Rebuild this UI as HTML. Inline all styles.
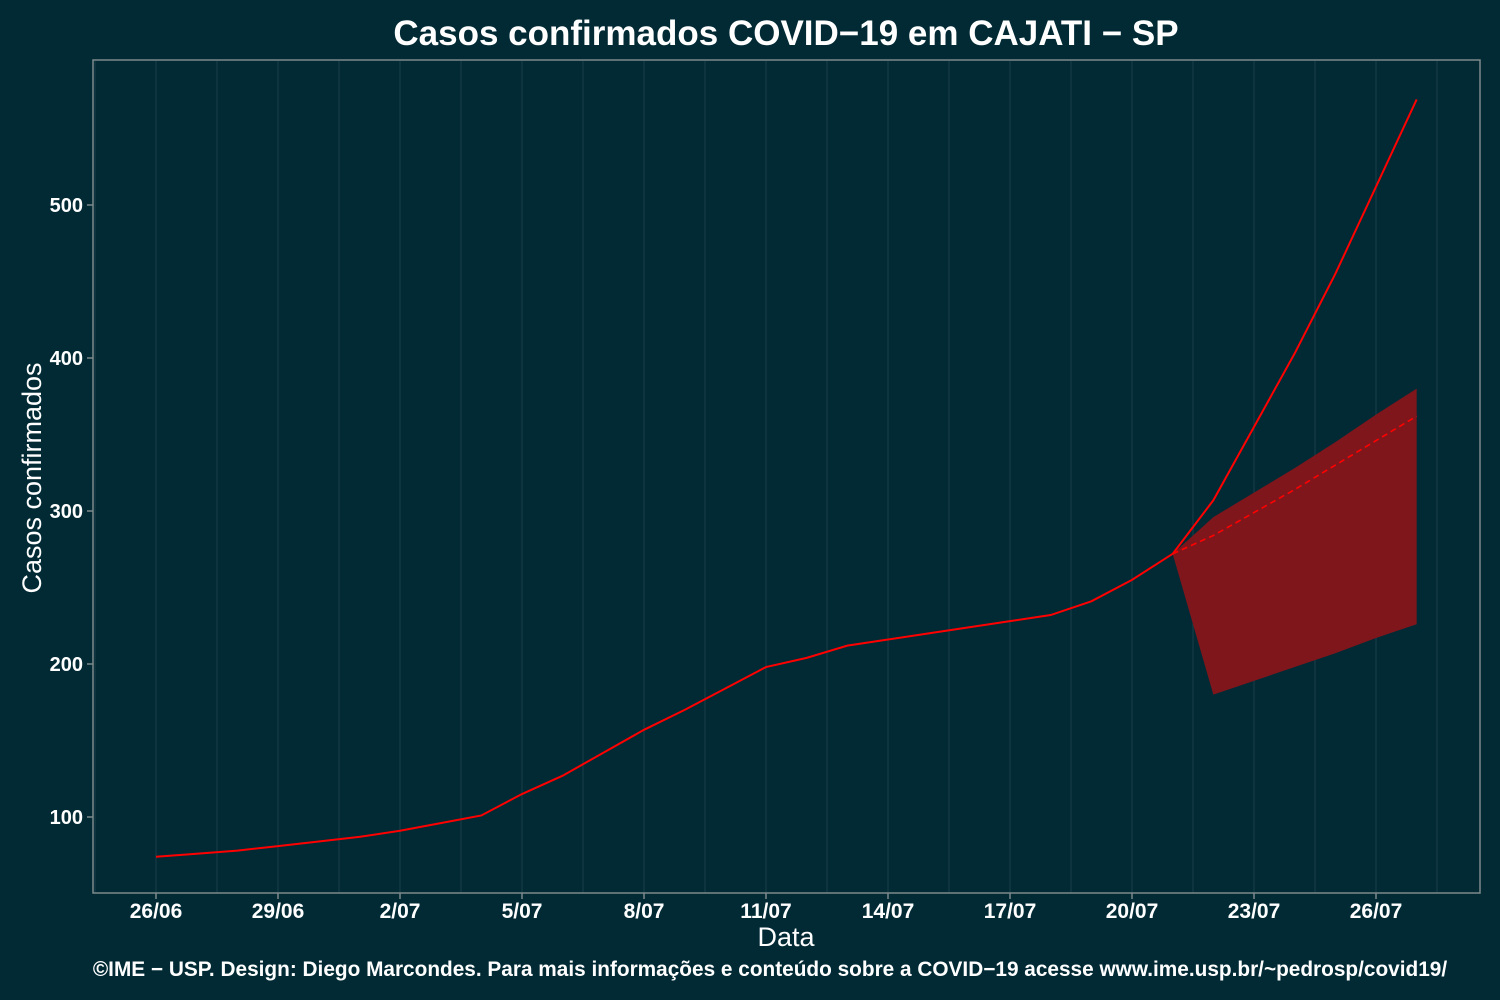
<!DOCTYPE html>
<html><head><meta charset="utf-8"><style>
body{margin:0;background:#012a35;}
svg{display:block;font-family:"Liberation Sans",sans-serif;}
</style></head><body>
<svg id="chart" width="1500" height="1000" viewBox="0 0 1500 1000">
<rect width="1500" height="1000" fill="#012a35"/>
<text x="786" y="45" text-anchor="middle" font-size="35" font-weight="bold" fill="#fff">Casos confirmados COVID−19 em CAJATI − SP</text>
<g id="grid"></g>
<g id="marks"></g>
<g id="axes"></g>
<text x="786" y="946" text-anchor="middle" font-size="27" fill="#fff">Data</text>
<text transform="translate(41,478) rotate(-90)" text-anchor="middle" font-size="27" fill="#fff">Casos confirmados</text>
<text x="770" y="976" text-anchor="middle" font-size="20.8" font-weight="bold" fill="#fff">©IME − USP. Design: Diego Marcondes. Para mais informações e conteúdo sobre a COVID−19 acesse www.ime.usp.br/~pedrosp/covid19/</text>
</svg>
<script>
const observed = [74,76,78,81,84,87,91,96,101,115,127,142,157,170,184,198,204,212,216,220,224,228,232,241,255,272];
const forecastDays = [25,26,27,28,29,30,31];
const forecastUpperLine = [272,307,355,403,455,512,569];
const bandUpper = [272,296,312,328,345,363,380];
const bandLower = [272,180,189,198,207,217,226];
const forecastMean = [272,284,299,314,330,346,362];
const xTickLabels = ["26/06","29/06","2/07","5/07","8/07","11/07","14/07","17/07","20/07","23/07","26/07"];
const yTicks = [100,200,300,400,500];

const NS="http://www.w3.org/2000/svg";
const X0=156, DX=40.667, Y0=970, DY=1.53;
const x=d=>X0+d*DX, y=v=>Y0-v*DY;
function mk(tag,attrs,parent){const e=document.createElementNS(NS,tag);for(const k in attrs)e.setAttribute(k,attrs[k]);document.getElementById(parent).appendChild(e);return e;}

for(let d=-1.5;d<=32;d+=1.5){const xx=x(d);if(xx<94||xx>1479)continue;
 const g=mk('line',{x1:xx,x2:xx,y1:61,y2:893,stroke:'#173c46','stroke-width':1.2},'grid');
 
 }

const band=mk('polygon',{points:forecastDays.map((d,i)=>x(d)+','+y(bandUpper[i])).concat(forecastDays.map((d,i)=>x(d)+','+y(bandLower[i])).reverse()).join(' '),fill:'#7f161c'},'marks');


const obs=mk('polyline',{points:observed.map((v,i)=>x(i)+','+y(v)).join(' '),fill:'none',stroke:'#f00','stroke-width':2},'marks');


const up=mk('polyline',{points:forecastDays.map((d,i)=>x(d)+','+y(forecastUpperLine[i])).join(' '),fill:'none',stroke:'#f00','stroke-width':2},'marks');


const mean=mk('polyline',{points:forecastDays.map((d,i)=>x(d)+','+y(forecastMean[i])).join(' '),fill:'none',stroke:'#f00','stroke-width':1.6,'stroke-dasharray':'6,4'},'marks');



const frame=mk('rect',{x:93,y:60,width:1387,height:833,fill:'none',stroke:'#7d8a8c','stroke-width':1.5},'axes');


xTickLabels.forEach((t,i)=>{const xx=x(i*3);
 const tk=mk('line',{x1:xx,x2:xx,y1:893,y2:899,stroke:'#7d8a8c','stroke-width':1.5},'axes');
 
 
 const tx=mk('text',{x:xx,y:918,'text-anchor':'middle','font-size':21,'font-weight':'bold',fill:'#fff'},'axes');tx.textContent=t;
 
 });
yTicks.forEach(v=>{const yy=y(v);
 const tk=mk('line',{x1:87,x2:93,y1:yy,y2:yy,stroke:'#7d8a8c','stroke-width':1.5},'axes');
 
 
 const tx=mk('text',{x:83,y:yy+7,'text-anchor':'end','font-size':20,'font-weight':'bold',fill:'#fff'},'axes');tx.textContent=v;
 
 });
</script>
</body></html>
